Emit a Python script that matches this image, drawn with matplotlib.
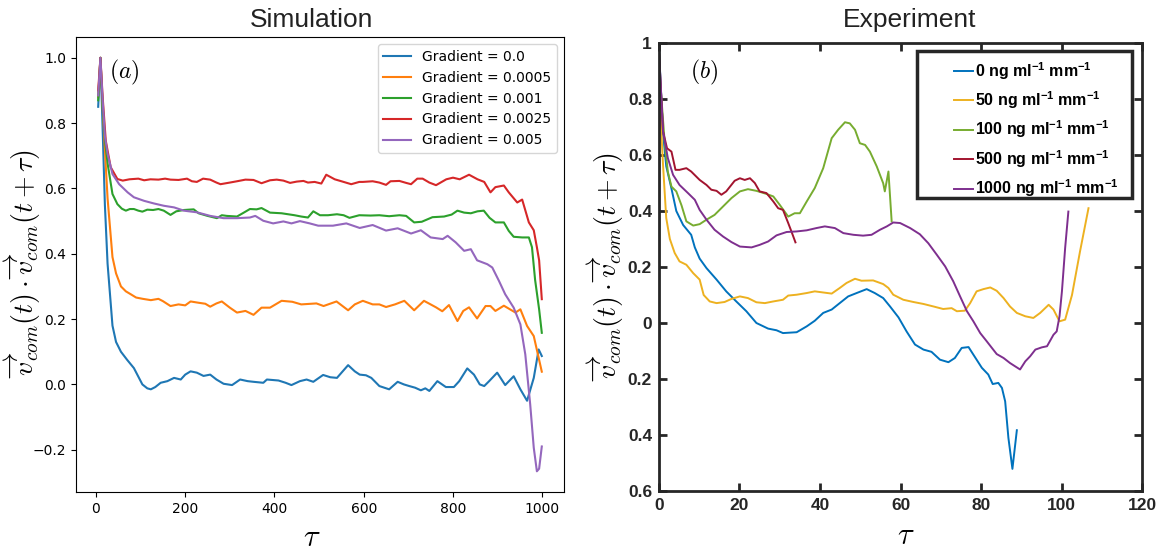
import numpy as np
import matplotlib
import matplotlib.pyplot as plt
from matplotlib.patches import Rectangle

# ---------------- Simulation (panel a) ----------------
sim_labels = ['Gradient = 0.0', 'Gradient = 0.0005', 'Gradient = 0.001',
              'Gradient = 0.0025', 'Gradient = 0.005']

g0_x = [5, 10, 15, 20, 26, 37, 45, 56, 70, 85, 104, 115, 123, 133, 145, 160, 175, 190, 200, 212,
        226, 241, 256, 270, 286, 305, 323, 340, 353, 375, 383, 409, 425, 438, 457, 472, 487, 509,
        525, 540, 565, 580, 591, 605, 617, 635, 657, 676, 690, 702, 715, 728, 738, 747, 765, 784,
        802, 814, 832, 847, 860, 870, 881, 899, 917, 936, 951, 966, 981, 992, 999]
g0_y = [0.85, 1.0, 0.78, 0.55, 0.37, 0.18, 0.13, 0.10, 0.075, 0.05, 0.0, -0.012, -0.015, -0.008,
        0.005, 0.01, 0.02, 0.015, 0.03, 0.04, 0.036, 0.026, 0.03, 0.015, 0.002, -0.002, 0.015, 0.01,
        0.008, 0.005, 0.015, 0.012, 0.005, -0.002, 0.01, 0.015, 0.008, 0.029, 0.022, 0.02, 0.059,
        0.04, 0.03, 0.028, 0.02, -0.005, -0.015, 0.008, 0.0, -0.005, -0.01, -0.018, -0.012, -0.02,
        0.01, -0.008, -0.008, 0.01, 0.049, 0.03, 0.0, -0.005, 0.01, 0.036, -0.002, 0.025, -0.015,
        -0.05, 0.02, 0.107, 0.087]

g1_x = [5, 10, 15, 20, 26, 37, 45, 56, 67, 78, 90, 105, 123, 140, 150, 167, 185, 200, 212, 230,
        245, 256, 270, 282, 300, 316, 335, 353, 371, 390, 416, 440, 460, 494, 510, 539, 565, 580,
        598, 620, 635, 650, 670, 691, 713, 735, 762, 776, 791, 810, 823, 836, 854, 873, 884, 895,
        914, 940, 951, 966, 981, 999]
g1_y = [0.88, 1.0, 0.85, 0.72, 0.57, 0.39, 0.34, 0.30, 0.285, 0.276, 0.266, 0.262, 0.258, 0.262,
        0.255, 0.24, 0.245, 0.242, 0.254, 0.25, 0.247, 0.238, 0.248, 0.254, 0.235, 0.22, 0.225,
        0.213, 0.235, 0.235, 0.256, 0.253, 0.245, 0.248, 0.24, 0.254, 0.227, 0.245, 0.256, 0.245,
        0.245, 0.237, 0.245, 0.256, 0.227, 0.256, 0.236, 0.224, 0.243, 0.194, 0.225, 0.236, 0.202,
        0.24, 0.24, 0.225, 0.241, 0.22, 0.23, 0.179, 0.148, 0.039]

g2_x = [5, 10, 15, 20, 26, 37, 48, 58, 67, 76, 85, 95, 104, 115, 128, 140, 152, 167, 180, 197,
        219, 230, 250, 271, 282, 293, 316, 330, 345, 360, 371, 390, 416, 445, 460, 475, 487, 502,
        520, 540, 555, 568, 590, 615, 635, 657, 680, 695, 713, 730, 754, 780, 797, 810, 825, 840,
        855, 869, 882, 895, 914, 925, 936, 955, 970, 977, 984, 993, 999]
g2_y = [0.87, 1.0, 0.85, 0.75, 0.677, 0.583, 0.552, 0.538, 0.532, 0.537, 0.537, 0.532, 0.529,
        0.535, 0.534, 0.537, 0.532, 0.519, 0.53, 0.534, 0.536, 0.524, 0.516, 0.509, 0.518, 0.516,
        0.514, 0.525, 0.537, 0.536, 0.54, 0.526, 0.524, 0.518, 0.514, 0.511, 0.53, 0.518, 0.518,
        0.521, 0.518, 0.51, 0.518, 0.517, 0.518, 0.515, 0.518, 0.516, 0.496, 0.498, 0.512, 0.514,
        0.52, 0.532, 0.526, 0.524, 0.53, 0.532, 0.51, 0.496, 0.496, 0.47, 0.452, 0.45, 0.45, 0.42,
        0.32, 0.23, 0.158]

g3_x = [5, 10, 15, 22, 33, 48, 60, 75, 95, 108, 122, 140, 155, 167, 185, 204, 215, 226, 240, 256,
        270, 279, 300, 316, 335, 353, 371, 390, 405, 420, 435, 450, 465, 475, 490, 505, 516, 535,
        550, 572, 590, 598, 620, 635, 650, 660, 680, 695, 706, 720, 732, 747, 762, 785, 800, 815,
        836, 855, 870, 884, 895, 914, 925, 944, 955, 970, 981, 988, 993, 999]
g3_y = [0.9, 1.0, 0.88, 0.746, 0.665, 0.629, 0.624, 0.628, 0.63, 0.625, 0.628, 0.627, 0.63,
        0.627, 0.626, 0.63, 0.622, 0.62, 0.63, 0.627, 0.618, 0.613, 0.618, 0.622, 0.627, 0.626,
        0.616, 0.625, 0.627, 0.624, 0.617, 0.621, 0.623, 0.618, 0.62, 0.615, 0.642, 0.628, 0.622,
        0.613, 0.62, 0.62, 0.622, 0.618, 0.611, 0.622, 0.623, 0.617, 0.613, 0.63, 0.63, 0.618,
        0.61, 0.628, 0.633, 0.628, 0.642, 0.628, 0.62, 0.588, 0.604, 0.609, 0.588, 0.557, 0.566,
        0.496, 0.472, 0.42, 0.38, 0.261]

g4_x = [5, 10, 15, 20, 26, 37, 52, 71, 85, 108, 130, 152, 175, 197, 226, 256, 286, 316, 345, 357,
        375, 397, 420, 438, 457, 479, 498, 531, 561, 591, 620, 650, 676, 706, 728, 750, 777, 788,
        806, 825, 840, 854, 877, 888, 903, 917, 936, 951, 962, 973, 981, 988, 993, 999]
g4_y = [0.885, 1.0, 0.87, 0.76, 0.706, 0.644, 0.613, 0.588, 0.573, 0.562, 0.554, 0.547, 0.542,
        0.532, 0.527, 0.516, 0.509, 0.509, 0.511, 0.516, 0.501, 0.493, 0.499, 0.493, 0.5, 0.493,
        0.486, 0.486, 0.493, 0.479, 0.488, 0.471, 0.478, 0.462, 0.472, 0.45, 0.445, 0.455, 0.435,
        0.409, 0.414, 0.38, 0.368, 0.358, 0.317, 0.276, 0.235, 0.184, 0.092, -0.061, -0.194,
        -0.266, -0.258, -0.19]

# ---------------- Experiment (panel b) ----------------
exp_labels = [r'0 ng ml$^{\mathregular{-1}}$ mm$^{\mathregular{-1}}$',
              r'50 ng ml$^{\mathregular{-1}}$ mm$^{\mathregular{-1}}$',
              r'100 ng ml$^{\mathregular{-1}}$ mm$^{\mathregular{-1}}$',
              r'500 ng ml$^{\mathregular{-1}}$ mm$^{\mathregular{-1}}$',
              r'1000 ng ml$^{\mathregular{-1}}$ mm$^{\mathregular{-1}}$']

c0_x = [0, 1, 1.8, 3.1, 4.3, 6, 8, 8.9, 10.1, 11.8, 14.3, 16.7, 19.2, 21.7, 24.2, 27.1, 29.2, 30.8,
        34.2, 36.7, 38.7, 40.8, 42.9, 44.9, 47, 49.1, 51.6, 53.6, 55.7, 57.4, 59.5, 61.5, 63.6,
        65.7, 67.7, 69.8, 71.9, 73.5, 75.2, 76.9, 78.1, 80.2, 81.8, 82.9, 84.3, 85.2, 86, 86.8,
        87.8, 88.9]
c0_y = [0.98, 0.68, 0.56, 0.48, 0.40, 0.35, 0.315, 0.27, 0.23, 0.196, 0.155, 0.113, 0.077,
        0.042, 0.0, -0.02, -0.026, -0.036, -0.033, -0.012, 0.008, 0.036, 0.048, 0.071, 0.095,
        0.107, 0.121, 0.107, 0.089, 0.059, 0.02, -0.03, -0.077, -0.095, -0.103, -0.131, -0.14,
        -0.125, -0.089, -0.086, -0.113, -0.16, -0.184, -0.218, -0.214, -0.232, -0.28, -0.41,
        -0.521, -0.383]

c1_x = [0, 1, 1.8, 2.7, 3.9, 5.1, 6.8, 8.5, 10.1, 11.1, 12.6, 14.3, 16.3, 18, 20.1, 22.1, 24.2,
        26.3, 28.4, 30.8, 32.1, 34.2, 36.7, 38.7, 40.8, 42.9, 44.9, 46.6, 48.7, 50.3, 53.2, 55.7,
        57, 58.2, 60.7, 63.2, 65.7, 68.2, 70.6, 72.7, 74, 76, 77.3, 78.9, 80.6, 82.3, 83.9, 85.6,
        87.2, 88.9, 91, 93, 94.7, 96.8, 98, 99.5, 100.9, 102.6, 104.6, 106.7]
c1_y = [0.85, 0.565, 0.375, 0.30, 0.25, 0.22, 0.208, 0.178, 0.155, 0.10, 0.077, 0.071, 0.075,
        0.086, 0.095, 0.089, 0.074, 0.071, 0.077, 0.083, 0.098, 0.101, 0.107, 0.113, 0.109, 0.105,
        0.125, 0.143, 0.158, 0.151, 0.152, 0.139, 0.125, 0.101, 0.083, 0.075, 0.068, 0.059, 0.05,
        0.053, 0.042, 0.044, 0.071, 0.113, 0.121, 0.127, 0.115, 0.089, 0.059, 0.036, 0.024, 0.018,
        0.036, 0.065, 0.048, 0.006, 0.012, 0.10, 0.256, 0.41]

c2_x = [0, 0.3, 1.4, 2.2, 3.1, 4.3, 5.6, 6.8, 8.5, 10.1, 11.8, 13.8, 15.9, 18, 20.1, 22.1, 24.2,
        26.7, 28.4, 30, 32.1, 33.7, 35, 36.7, 38.7, 40.8, 42.9, 44.5, 46.2, 47.4, 48.7, 49.9, 51.2,
        52.4, 54.1, 55.7, 56.1, 57, 57.8]
c2_y = [0.97, 0.862, 0.648, 0.54, 0.487, 0.47, 0.42, 0.363, 0.348, 0.353, 0.369, 0.386, 0.416,
        0.446, 0.47, 0.478, 0.472, 0.461, 0.452, 0.422, 0.38, 0.392, 0.392, 0.434, 0.482, 0.553,
        0.66, 0.69, 0.717, 0.713, 0.69, 0.642, 0.636, 0.612, 0.559, 0.499, 0.47, 0.541, 0.363]

c3_x = [0, 1, 2, 3.1, 4.1, 5.1, 6.8, 8, 10.1, 11.8, 13, 14.3, 15.5, 16.7, 18.8, 20.1, 21.3, 22.6,
        23.8, 25, 26.7, 28.4, 29.6, 30.8, 32.1, 32.9, 33.9]
c3_y = [0.97, 0.684, 0.624, 0.612, 0.547, 0.547, 0.553, 0.541, 0.511, 0.493, 0.476, 0.472,
        0.458, 0.47, 0.508, 0.517, 0.511, 0.517, 0.5, 0.47, 0.464, 0.434, 0.41, 0.404, 0.357,
        0.327, 0.288]

c4_x = [0, 1, 2.2, 3.5, 5.1, 7.2, 8.9, 10.1, 11.8, 13.8, 15.9, 18, 20.1, 23, 25, 27.1, 29.2, 31.7,
        34.2, 36.7, 39.1, 41.2, 43.7, 45.8, 48.3, 50.7, 52.8, 54.9, 56.6, 58.2, 59.9, 62.4, 64.8,
        66.9, 69, 71.1, 73.1, 74.8, 76.5, 78.1, 79.8, 81.4, 82.7, 83.9, 85.6, 87.2, 88.5, 89.7, 91,
        92.2, 93.5, 95.1, 96.4, 98, 98.8, 99.5, 100.1, 100.9, 101.7]
c4_y = [0.97, 0.684, 0.589, 0.529, 0.493, 0.464, 0.44, 0.404, 0.369, 0.333, 0.309, 0.289, 0.273,
        0.27, 0.279, 0.291, 0.313, 0.325, 0.327, 0.331, 0.339, 0.345, 0.339, 0.321, 0.315, 0.312,
        0.315, 0.333, 0.345, 0.359, 0.357, 0.339, 0.317, 0.285, 0.244, 0.202, 0.149, 0.095, 0.042,
        0.006, -0.036, -0.065, -0.089, -0.111, -0.125, -0.143, -0.155, -0.166, -0.137, -0.119,
        -0.095, -0.087, -0.083, -0.042, -0.03, 0.024, 0.113, 0.268, 0.398]

exp_colors = ['#0072BD', '#EDB120', '#77AC30', '#A2142F', '#7E2F8E']
exp_xticks = [0, 20, 40, 60, 80, 100, 120]
exp_yticks = [1, 0.8, 0.6, 0.4, 0.2, 0, -0.2, -0.4, -0.6]
exp_yticklabels = ['1', '0.8', '0.6', '0.4', '0.2', '0', '0.2', '0.4', '0.6']

ylabel = r'$\overrightarrow{v}_{com}(t)\cdot\overrightarrow{v}_{com}(t+\tau)$'
boldfam = ['Liberation Sans Narrow', 'Liberation Sans', 'DejaVu Sans']

fig = plt.figure(figsize=(11.73, 5.5), dpi=100)

# ---- left panel ----
ax1 = fig.add_axes([0.0648, 0.1055, 0.416, 0.827])
for xs, ys, lab in zip([g0_x, g1_x, g2_x, g3_x, g4_x], [g0_y, g1_y, g2_y, g3_y, g4_y], sim_labels):
    ax1.plot(xs, ys, label=lab, linewidth=1.5)
ax1.legend(loc='upper right', fontsize=10)
ax1.set_xticks([0, 200, 400, 600, 800, 1000])
ax1.set_yticks([-0.2, 0.0, 0.2, 0.4, 0.6, 0.8, 1.0])
ax1.tick_params(labelsize=10)
ax1.set_ylabel(ylabel, fontsize=20, math_fontfamily='cm')
ax1.yaxis.set_label_coords(-0.068, 0.5)
ax1.set_xlabel(r'$\tau$', fontsize=22, math_fontfamily='cm')
ax1.xaxis.set_label_coords(0.484, -0.068)
ax1.text(0.068, 0.923, r'$(a)$', transform=ax1.transAxes, fontsize=17,
         math_fontfamily='cm', va='center')
fig.text(312 / 1173, 1 - 27 / 550, 'Simulation', fontsize=19, family='Liberation Sans',
         ha='center', va='baseline', color='#222222')

# ---- right panel ----
ax2 = fig.add_axes([0.5618, 0.1073, 0.4118, 0.8145])
for xs, ys, lab, col in zip([c0_x, c1_x, c2_x, c3_x, c4_x], [c0_y, c1_y, c2_y, c3_y, c4_y],
                            exp_labels, exp_colors):
    ax2.plot(xs, ys, label=lab, color=col, linewidth=1.4)
ax2.set_xlim(0, 120)
ax2.set_ylim(-0.6, 1)
ax2.set_xticks(exp_xticks)
ax2.set_yticks(exp_yticks)
ax2.set_yticklabels(exp_yticklabels)
ax2.tick_params(direction='in', top=True, right=True, length=6, width=2, color='#262626',
                pad=5)
for lbl in ax2.get_xticklabels() + ax2.get_yticklabels():
    lbl.set_family(boldfam)
    lbl.set_fontweight('bold')
    lbl.set_fontsize(12.5)
    lbl.set_color('#262626')
for sp in ax2.spines.values():
    sp.set_linewidth(2)
    sp.set_color('#262626')
ax2.set_ylabel(ylabel, fontsize=20, math_fontfamily='cm')
ax2.yaxis.set_label_coords(-0.068, 0.5)
ax2.set_xlabel(r'$\tau$', fontsize=22, math_fontfamily='cm')
ax2.xaxis.set_label_coords(0.511, -0.068)
ax2.text(0.064, 0.935, r'$(b)$', transform=ax2.transAxes, fontsize=17,
         math_fontfamily='cm', va='center')
leg = ax2.legend(loc='upper left', bbox_to_anchor=(0.594, 0.98), frameon=False,
                 prop={'family': boldfam, 'weight': 'bold', 'size': 11.5},
                 handlelength=1.2, handletextpad=0.1, labelspacing=0.48, borderpad=0)
ax2.add_patch(Rectangle((0.534, 0.655), 0.445, 0.327, transform=ax2.transAxes, fill=False,
                        linewidth=2.5, edgecolor='#262626', zorder=5, clip_on=False))
fig.text(910 / 1173, 1 - 27 / 550, 'Experiment', fontsize=19, family='Liberation Sans',
         ha='center', va='baseline', color='#222222')

fig.savefig('out.png', dpi=100)
